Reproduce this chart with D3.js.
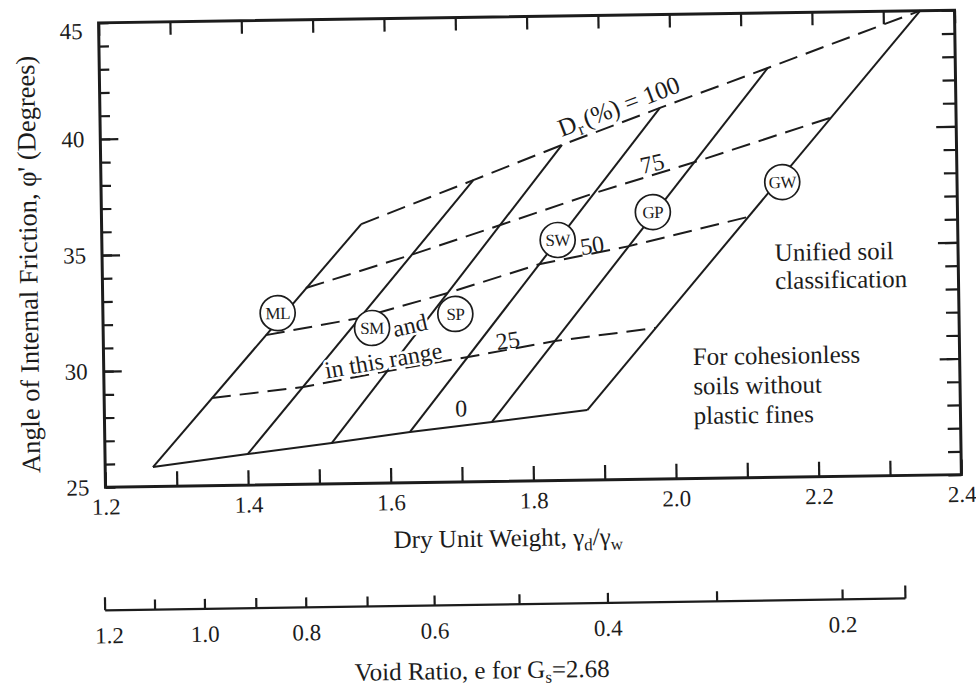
<!DOCTYPE html>
<html>
<head>
<meta charset="utf-8">
<script src="https://cdn.jsdelivr.net/npm/d3@7"></script>
<style>
  body { margin: 0; background: #fff; }
  svg { display: block; }
  svg text { font-family: "Liberation Serif", "DejaVu Serif", "Times New Roman", serif; }
</style>
</head>
<body>
<svg id="chart" width="976" height="687"></svg>
<script>
// relative density lines and the soil groups they cross
var drLevels = [0, 25, 50, 75, 100];
var soilTypes = ["ML", "SM", "SP", "SW", "GP", "GW"];

// dry unit weight (gamma_d / gamma_w) where each Dr line meets the six soil lines
var gammaDr0   = [1.267, 1.400, 1.518, 1.628, 1.743, 1.877];
var gammaDr25  = [1.351, 1.479, 1.598, 1.711, 1.833, 1.974];
var gammaDr50  = [1.428, 1.560, 1.684, 1.814, 1.939, 2.106];
var gammaDr75  = [1.485, 1.633, 1.759, 1.892, 2.033, 2.223];
var gammaDr100 = [1.564, 1.722, 1.847, 1.985, 2.137, 2.352];

// friction angle (degrees) at the same points
var phiDr0   = [25.84, 26.34, 26.76, 27.19, 27.57, 28.02];
var phiDr25  = [28.78, 29.19, 29.83, 30.38, 31.01, 31.51];
var phiDr50  = [31.45, 32.13, 33.15, 34.34, 35.05, 36.23];
var phiDr75  = [33.45, 34.81, 36.04, 37.36, 38.63, 40.44];
var phiDr100 = [36.17, 37.99, 39.45, 40.98, 42.63, 45.00];

// where the circled soil symbols sit
var soilGamma = [1.445, 1.577, 1.694, 1.839, 1.973, 2.155];
var soilPhi   = [32.39, 31.69, 32.24, 35.36, 36.50, 37.71];

var xTickValues = [1.2, 1.3, 1.4, 1.5, 1.6, 1.7, 1.8, 1.9, 2.0, 2.1, 2.2, 2.3, 2.4];
var xTickLabels = [1.2, 1.4, 1.6, 1.8, 2.0, 2.2, 2.4];
var yTickValues = [25, 26, 27, 28, 29, 30, 31, 32, 33, 34, 35, 36, 37, 38, 39, 40, 41, 42, 43, 44, 45];
var yTickLabels = [25, 30, 35, 40, 45];
var yMajor = [30, 35, 40];

// void ratio scale underneath (Gs = 2.68): ticks and where they fall on the
// dry unit weight scale, as drawn in the figure
var voidTicks      = [1.2, 1.1, 1.0, 0.9, 0.8, 0.7, 0.6, 0.5, 0.4, 0.3, 0.2, 0.15];
var voidTickGamma  = [1.197, 1.267, 1.337, 1.409, 1.479, 1.565, 1.659, 1.778, 1.902, 2.055, 2.231, 2.319];
var voidTickLabels = [1.2, 1.0, 0.8, 0.6, 0.4, 0.2];

var ink = "#1c1c1c";
var serif = "'Liberation Serif', 'DejaVu Serif', serif";
var svg = d3.select("#chart");
svg.append("rect").attr("width", 976).attr("height", 687).attr("fill", "#fff");

// the scanned figure sits a little crooked
var root = svg.append("g")
    .attr("transform", "rotate(-0.85,530,250)")
    .attr("font-family", serif);

var x = d3.scaleLinear().domain([1.2, 2.4]).range([102, 958]);
var y = d3.scaleLinear().domain([25, 45]).range([481, 16.5]);

function styleAxis(sel) {
    sel.attr("font-family", serif).attr("font-size", 23);
    sel.select(".domain").remove();
    sel.selectAll(".tick line").attr("stroke", ink).attr("stroke-width", 2.2);
    sel.selectAll(".tick text").attr("fill", ink);
}

// axes, ticks pointing inwards
root.append("g")
    .attr("transform", "translate(0," + y(25) + ")")
    .call(d3.axisBottom(x).tickValues(xTickValues).tickSize(-15).tickPadding(11)
        .tickFormat(function (d) { return xTickLabels.indexOf(d) >= 0 ? d.toFixed(1) : ""; }))
    .call(styleAxis);

root.append("g")
    .attr("transform", "translate(0," + y(45) + ")")
    .call(d3.axisTop(x).tickValues(xTickValues).tickSize(-13).tickFormat(""))
    .call(styleAxis);

root.append("g")
    .attr("transform", "translate(" + x(1.2) + ",0)")
    .call(d3.axisLeft(y).tickValues(yTickValues).tickSize(-10).tickFormat(""))
    .call(styleAxis);

var leftMajor = root.append("g")
    .attr("transform", "translate(" + x(1.2) + ",0)")
    .call(d3.axisLeft(y).tickValues(yTickLabels).tickSize(-18).tickPadding(16))
    .call(styleAxis);
leftMajor.selectAll(".tick").filter(function (d) { return yMajor.indexOf(d) < 0; })
    .select("line").remove();
leftMajor.selectAll(".tick text").filter(function (d) { return d === 45; }).attr("y", 8);

root.append("g")
    .attr("transform", "translate(" + x(2.4) + ",0)")
    .call(d3.axisRight(y).tickValues(yTickValues).tickSize(-13).tickFormat(""))
    .call(styleAxis);

root.append("g")
    .attr("transform", "translate(" + x(2.4) + ",0)")
    .call(d3.axisRight(y).tickValues(yMajor).tickSize(-20).tickFormat(""))
    .call(styleAxis);

// frame
root.append("rect")
    .attr("x", x(1.2)).attr("y", y(45))
    .attr("width", x(2.4) - x(1.2)).attr("height", y(25) - y(45))
    .attr("fill", "none").attr("stroke", ink).attr("stroke-width", 3);

// axis titles
root.append("text")
    .attr("transform", "translate(37,257) rotate(-90)")
    .attr("text-anchor", "middle")
    .attr("font-size", 26.5)
    .attr("fill", ink)
    .text("Angle of Internal Friction, \u03C6' (Degrees)");

var xt = root.append("text")
    .attr("x", 504).attr("y", 546)
    .attr("text-anchor", "middle")
    .attr("font-size", 25)
    .attr("fill", ink);
xt.append("tspan").text("Dry Unit Weight, \u03B3");
xt.append("tspan").attr("font-size", 17).attr("dy", 5).text("d");
xt.append("tspan").attr("dy", -5).text("/\u03B3");
xt.append("tspan").attr("font-size", 17).attr("dy", 5).text("w");

// grid of soil lines and relative density lines
var drGamma = [gammaDr0, gammaDr25, gammaDr50, gammaDr75, gammaDr100];
var drPhi = [phiDr0, phiDr25, phiDr50, phiDr75, phiDr100];
var line = d3.line().x(function (d) { return x(d[0]); }).y(function (d) { return y(d[1]); });

var grid = root.append("g").attr("fill", "none").attr("stroke", ink).attr("stroke-width", 2);

grid.selectAll(".soil")
    .data(soilTypes)
    .enter().append("path")
    .attr("class", "soil")
    .attr("d", function (s, i) {
        return line([[gammaDr0[i], phiDr0[i]], [gammaDr100[i], phiDr100[i]]]);
    });

grid.selectAll(".dr")
    .data(drLevels)
    .enter().append("path")
    .attr("class", "dr")
    .attr("stroke-dasharray", function (d) { return d === 0 ? null : "19,9"; })
    .attr("d", function (d, k) {
        return line(drGamma[k].map(function (g, i) { return [g, drPhi[k][i]]; }));
    });

// labels on the grid
function label(g, phi, txt, rot, size, halo) {
    var t = root.append("text")
        .attr("transform", "translate(" + x(g) + "," + y(phi) + ") rotate(" + rot + ")")
        .attr("font-size", size)
        .attr("fill", ink)
        .text(txt);
    if (halo) {
        t.attr("stroke", "#fff").attr("stroke-width", 5).attr("paint-order", "stroke");
    }
    return t;
}

var drTitle = root.append("text")
    .attr("transform", "translate(" + x(1.847) + "," + y(39.79) + ") rotate(-20)")
    .attr("font-size", 25)
    .attr("fill", ink);
drTitle.append("tspan").text("D");
drTitle.append("tspan").attr("font-size", 17).attr("dy", 5).text("r");
drTitle.append("tspan").attr("dy", -5).attr("dx", 3).text("(%) = 100");

label(1.973, 38.61, "75", -12, 24).attr("text-anchor", "middle").attr("dy", "0.35em");
label(1.887, 35.12, "50", -8, 24).attr("text-anchor", "middle").attr("dy", "0.35em");
label(1.767, 31.08, "25", -8, 24).attr("text-anchor", "middle").attr("dy", "0.35em");
label(1.700, 28.19, "0", 0, 24).attr("text-anchor", "middle").attr("dy", "0.35em");
label(1.630, 31.79, "and", -12, 24, true).attr("text-anchor", "middle").attr("dy", "0.35em");
label(1.592, 30.30, "in this range", -9, 24, true).attr("text-anchor", "middle").attr("dy", "0.35em");

var uni = label(2.143, 34.32, "", 0, 25);
uni.append("tspan").attr("x", 0).text("Unified soil");
uni.append("tspan").attr("x", 0).attr("dy", "1.12em").text("classification");

var coh = label(2.026, 29.89, "", 0, 25);
coh.append("tspan").attr("x", 0).text("For cohesionless");
coh.append("tspan").attr("x", 0).attr("dy", "1.18em").text("soils without");
coh.append("tspan").attr("x", 0).attr("dy", "1.18em").text("plastic fines");

// circled soil symbols
var sym = root.selectAll(".sym")
    .data(soilTypes)
    .enter().append("g")
    .attr("class", "sym")
    .attr("transform", function (s, i) {
        return "translate(" + x(soilGamma[i]) + "," + y(soilPhi[i]) + ")";
    });
sym.append("circle").attr("r", 17.5).attr("fill", "#fff").attr("stroke", ink).attr("stroke-width", 1.7);
sym.append("text")
    .attr("text-anchor", "middle").attr("dy", "0.35em")
    .attr("font-size", 17).attr("letter-spacing", -0.5).attr("fill", ink)
    .text(function (s) { return s; });

// void ratio scale, piecewise on the dry unit weight axis
var ve = d3.scaleLinear().domain(voidTicks).range(voidTickGamma);
var vx = function (e) { return x(ve(e)); };
var yVoid = 604;
var lastVoid = voidTicks[voidTicks.length - 1];
var va = root.append("g").attr("stroke", ink).attr("stroke-width", 2.2);
va.append("line").attr("x1", vx(voidTicks[0])).attr("x2", vx(lastVoid)).attr("y1", yVoid).attr("y2", yVoid);
va.selectAll(".vt")
    .data(voidTicks)
    .enter().append("line")
    .attr("x1", vx).attr("x2", vx)
    .attr("y1", yVoid)
    .attr("y2", function (d, i) { return (i === 0 || d === lastVoid) ? yVoid - 13 : yVoid - 10; });

root.selectAll(".vl")
    .data(voidTickLabels)
    .enter().append("text")
    .attr("x", function (d) { return vx(d) + (d === voidTicks[0] ? 4 : 0); })
    .attr("y", 637)
    .attr("text-anchor", "middle")
    .attr("font-size", 23)
    .attr("fill", ink)
    .text(function (d) { return d.toFixed(1); });

var vt = root.append("text")
    .attr("x", 476).attr("y", 678)
    .attr("text-anchor", "middle")
    .attr("font-size", 25)
    .attr("fill", ink);
vt.append("tspan").text("Void Ratio, e for G");
vt.append("tspan").attr("font-size", 17).attr("dy", 5).text("s");
vt.append("tspan").attr("dy", -5).text("=2.68");
</script>
</body>
</html>
